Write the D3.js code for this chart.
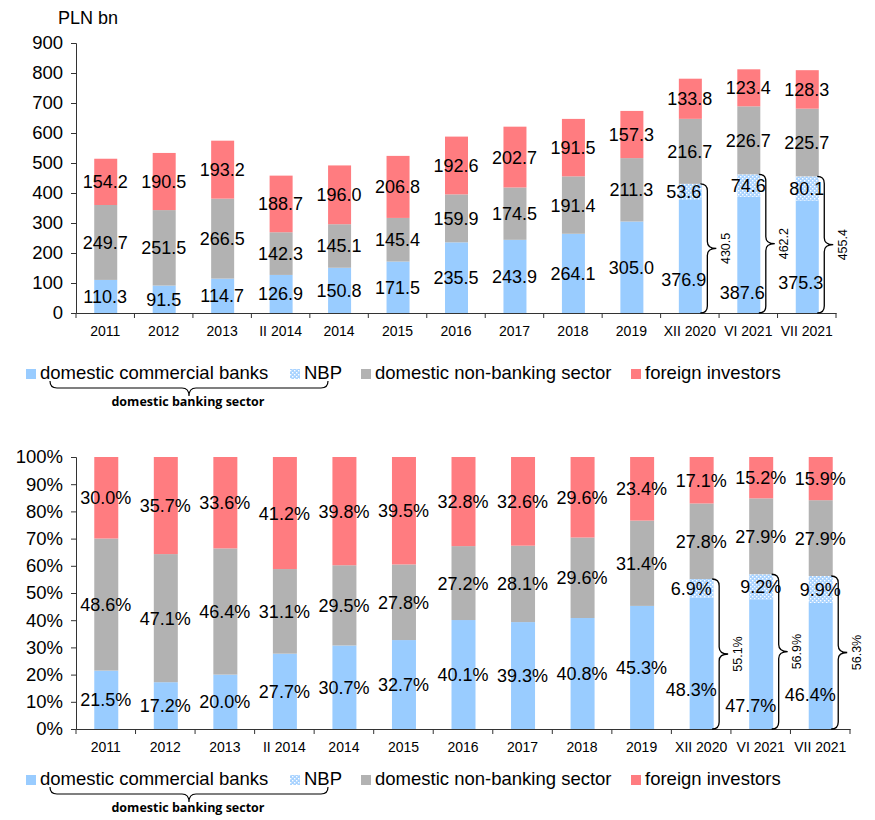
<!DOCTYPE html>
<html>
<head>
<meta charset="UTF-8">
<script src="https://d3js.org/d3.v7.min.js"></script>
<style>
	body{margin:0;background:#fff;}
	text{font-family:"Liberation Sans",Arial,sans-serif;fill:#000;}
</style>
</head>
<body>
<script>
// categories and series
var categories = ["2011","2012","2013","II 2014","2014","2015","2016","2017","2018","2019","XII 2020","VI 2021","VII 2021"];
var keys = ["banks","nbp","nonbank","foreign"];
var legendNames = ["domestic commercial banks","NBP","domestic non-banking sector","foreign investors"];

// PLN bn
var banksBn   = [110.3,91.5,114.7,126.9,150.8,171.5,235.5,243.9,264.1,305.0,376.9,387.6,375.3];
var nbpBn     = [0,0,0,0,0,0,0,0,0,0,53.6,74.6,80.1];
var nonbankBn = [249.7,251.5,266.5,142.3,145.1,145.4,159.9,174.5,191.4,211.3,216.7,226.7,225.7];
var foreignBn = [154.2,190.5,193.2,188.7,196.0,206.8,192.6,202.7,191.5,157.3,133.8,123.4,128.3];
var bankingBn = [null,null,null,null,null,null,null,null,null,null,430.5,462.2,455.4];

// shares, %
var banksPct   = [21.5,17.2,20.0,27.7,30.7,32.7,40.1,39.3,40.8,45.3,48.3,47.7,46.4];
var nbpPct     = [0,0,0,0,0,0,0,0,0,0,6.9,9.2,9.9];
var nonbankPct = [48.6,47.1,46.4,31.1,29.5,27.8,27.2,28.1,29.6,31.4,27.8,27.9,27.9];
var foreignPct = [30.0,35.7,33.6,41.2,39.8,39.5,32.8,32.6,29.6,23.4,17.1,15.2,15.9];
var bankingPct = [null,null,null,null,null,null,null,null,null,null,55.1,56.9,56.3];

var yTicksBn  = [0,100,200,300,400,500,600,700,800,900];
var yTicksPct = [0,10,20,30,40,50,60,70,80,90,100];

var colors = {banks:"#99CCFF", nbp:"url(#nbp)", nonbank:"#B2B2B2", foreign:"#FF7C80"};

var W = 875, H = 820;
var svg = d3.select("body").append("svg").attr("width", W).attr("height", H);

// dotted pattern for NBP
var pat = svg.append("defs").append("pattern").attr("id","nbp")
	.attr("width",4).attr("height",4).attr("patternUnits","userSpaceOnUse");
pat.append("rect").attr("width",4).attr("height",4).attr("fill","#A9D3FF");
pat.append("rect").attr("x",0).attr("y",0).attr("width",1.4).attr("height",1.4).attr("fill","#fff");
pat.append("rect").attr("x",2).attr("y",2).attr("width",1.4).attr("height",1.4).attr("fill","#fff");

function makeRows(a,b,c,d){
	return categories.map(function(cat,i){
		return {cat:cat, banks:a[i], nbp:b[i], nonbank:c[i], foreign:d[i]};
	});
}

// vertical curly brace, opening left
function vBrace(x, y0, y1, r, t){
	var ym = (y0+y1)/2;
	return "M"+(x-r)+","+y0+" Q"+x+","+y0+" "+x+","+(y0+r)+
		" L"+x+","+(ym-r)+" Q"+x+","+ym+" "+(x+t)+","+ym+
		" Q"+x+","+ym+" "+x+","+(ym+r)+
		" L"+x+","+(y1-r)+" Q"+x+","+y1+" "+(x-r)+","+y1;
}
// horizontal curly brace, opening up
function hBrace(x0, x1, y, r){
	var xm = (x0+x1)/2;
	return "M"+x0+","+y+" Q"+x0+","+(y+r)+" "+(x0+r)+","+(y+r)+
		" L"+(xm-r)+","+(y+r)+" Q"+xm+","+(y+r)+" "+xm+","+(y+r+8)+
		" Q"+xm+","+(y+r)+" "+(xm+r)+","+(y+r)+
		" L"+(x1-r)+","+(y+r)+" Q"+x1+","+(y+r)+" "+x1+","+y;
}

// blue label sits lower in the bars that carry a brace
var lowBlue = {"XII 2020":0.30, "VI 2021":0.18, "VII 2021":0.27};

function panel(o){
	var x = d3.scaleBand().domain(categories).range([o.x0, o.x1]);
	var y = d3.scaleLinear().domain(o.domain).range([o.yb, o.yt]);
	var g = svg.append("g");

	var stack = d3.stack().keys(keys);
	if (o.expand) stack.offset(d3.stackOffsetExpand);
	var series = stack(o.rows);
	var bw = o.bw;

	series.forEach(function(s){
		var k = s.key;
		g.selectAll(null).data(s).enter().append("rect")
			.attr("x", function(d){return x(d.data.cat)+x.bandwidth()/2-bw/2+0.5;})
			.attr("y", function(d){return y(d[1]);})
			.attr("width", bw)
			.attr("height", function(d){return Math.max(0, y(d[0])-y(d[1]));})
			.attr("fill", colors[k]);
	});

	// axes
	var ya = d3.axisLeft(y).tickValues(o.ticks).tickSize(5).tickPadding(8).tickFormat(o.tickFmt);
	var yg = g.append("g").attr("transform","translate("+o.x0+",0)").call(ya);
	yg.selectAll("text").style("font-size","18.5px").style("font-family","Liberation Sans, Arial");
	yg.selectAll("line,path").attr("stroke","#333");

	var xa = d3.axisBottom(x).tickSize(0).tickPadding(13);
	var xg = g.append("g").attr("transform","translate(0,"+o.yb+")").call(xa);
	xg.selectAll("text").style("font-size","14px").style("font-family","Liberation Sans, Arial");
	xg.select("path").attr("stroke","#333");
	var bounds = categories.map(function(c){return x(c);}).concat([o.x1]);
	xg.selectAll(".bt").data(bounds).enter().append("line")
		.attr("x1",function(d){return d;}).attr("x2",function(d){return d;})
		.attr("y1",0).attr("y2",5).attr("stroke","#333");

	// value labels
	series.forEach(function(s, si){
		var k = s.key;
		g.selectAll(null).data(s.filter(function(d){return d.data[k] > 0;})).enter().append("text")
			.attr("x", function(d){
				var cx = x(d.data.cat)+x.bandwidth()/2;
				if (o.braceVals[categories.indexOf(d.data.cat)] != null && (k==="banks" || (k==="nbp" && d.data.cat==="XII 2020"))) cx -= o.shift;
				return cx;
			})
			.attr("y", function(d){
				var f = 0.5;
				if (k==="banks" && lowBlue[d.data.cat] != null) f = lowBlue[d.data.cat];
				return y(d[0] + (d[1]-d[0])*f);
			})
			.attr("dy","0.36em")
			.attr("text-anchor","middle")
			.style("font-size","18px")
			.text(function(d){return o.fmt(d.data[k]);});
	});

	// braces for domestic banking sector
	var nbpLayer = series[1];
	nbpLayer.forEach(function(d, i){
		if (o.braceVals[i] == null) return;
		var xr = x(d.data.cat)+x.bandwidth()/2+bw/2 + 6;
		var yt = y(d[1]), yb = y(0);
		g.append("path").attr("d", vBrace(xr, yt, yb, 7, 9))
			.attr("fill","none").attr("stroke","#000").attr("stroke-width",1.3);
		g.append("text")
			.attr("transform","translate("+(xr+18)+","+((yt+yb)/2)+") rotate(-90)")
			.attr("text-anchor","middle").attr("dy","0.35em")
			.style("font-size","12.5px")
			.text(o.braceFmt(o.braceVals[i]));
	});
}

function legend(yb){
	var items = [
		{k:"banks", x:26}, {k:"nbp", x:290}, {k:"nonbank", x:361}, {k:"foreign", x:631}
	];
	var lg = svg.append("g");
	items.forEach(function(it){
		var i = keys.indexOf(it.k);
		lg.append("rect").attr("x",it.x).attr("y",yb-10).attr("width",10).attr("height",10).attr("fill",colors[it.k]);
		lg.append("text").attr("x",it.x+14).attr("y",yb).style("font-size","18.5px").text(legendNames[i]);
	});
	lg.append("path").attr("d", hBrace(50, 328, yb+2, 7))
		.attr("fill","none").attr("stroke","#000").attr("stroke-width",1.2);
	lg.append("text").attr("x",188).attr("y",yb+27).attr("text-anchor","middle")
		.style("font-size","12.5px").style("font-weight","bold").style("font-family","Open Sans, sans-serif")
		.text("domestic banking sector");
}

// top panel: PLN bn
svg.append("text").attr("x",58).attr("y",24).style("font-size","18px").text("PLN bn");
panel({
	rows: makeRows(banksBn, nbpBn, nonbankBn, foreignBn),
	x0: 76, x1: 836, yb: 313, yt: 43,
	domain: [0, 900], ticks: yTicksBn, tickFmt: d3.format("d"),
	expand: false, bw: 23, shift: 6,
	fmt: d3.format(".1f"),
	braceVals: bankingBn, braceFmt: d3.format(".1f")
});
legend(379);

// bottom panel: shares
panel({
	rows: makeRows(banksPct, nbpPct, nonbankPct, foreignPct),
	x0: 76, x1: 850, yb: 729, yt: 457,
	domain: [0, 1], ticks: yTicksPct.map(function(v){return v/100;}), tickFmt: d3.format(".0%"),
	expand: true, bw: 24, shift: 10,
	fmt: function(v){return d3.format(".1f")(v)+"%";},
	braceVals: bankingPct, braceFmt: function(v){return d3.format(".1f")(v)+"%";}
});
legend(785);
</script>
</body>
</html>
